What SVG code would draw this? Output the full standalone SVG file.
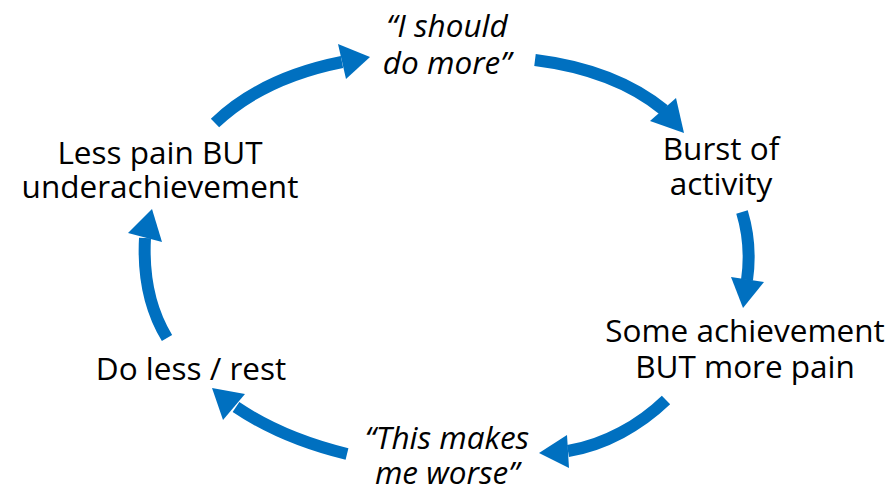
<svg xmlns="http://www.w3.org/2000/svg" width="894" height="493" viewBox="0 0 894 493">
<style>
.t{font-family:"Open Sans","Noto Sans","Liberation Sans",sans-serif;font-size:31.5px;fill:#000;text-anchor:middle}
.i{font-style:italic}
.s{fill:none;stroke:#0070C0;stroke-width:12}
.h{fill:#0070C0}
</style>
<rect width="894" height="493" fill="#fff"/>
<g id="connectors">
<path class="s" d="M215,123 Q262,78 342,62"/>
<polygon class="h" points="338,44 346,79 370,57"/>
<path class="s" d="M535,60 Q615,70 664,110"/>
<polygon class="h" points="650,121 676,98 684,133"/>
<path class="s" d="M742,212 Q752,245 747,280"/>
<polygon class="h" points="731,277 764,282 743,308"/>
<path class="s" d="M666,400 C640,425 605,445 568,451"/>
<polygon class="h" points="567,435 569,468 539,453"/>
<path class="s" d="M347,454 C310,445 270,430 236,407"/>
<polygon class="h" points="223,420 245,394 212,388"/>
<path class="s" d="M167,338 C150,310 143,275 145,238"/>
<polygon class="h" points="128,233 162,242 152,209"/>
</g>
<g id="n-should"><text class="t i" x="447" y="37">“I should</text><text class="t i" x="447" y="74">do more”</text></g>
<g id="n-burst"><text class="t" x="721" y="160">Burst of</text><text class="t" x="721" y="195">activity</text></g>
<g id="n-some"><text class="t" x="745" y="342">Some achievement</text><text class="t" x="745" y="378">BUT more pain</text></g>
<g id="n-worse"><text class="t i" x="447" y="449">“This makes</text><text class="t i" x="447" y="484">me worse”</text></g>
<g id="n-rest"><text class="t" x="191" y="380">Do less / rest</text></g>
<g id="n-less"><text class="t" x="160" y="164">Less pain BUT</text><text class="t" x="160" y="198">underachievement</text></g>
</svg>
